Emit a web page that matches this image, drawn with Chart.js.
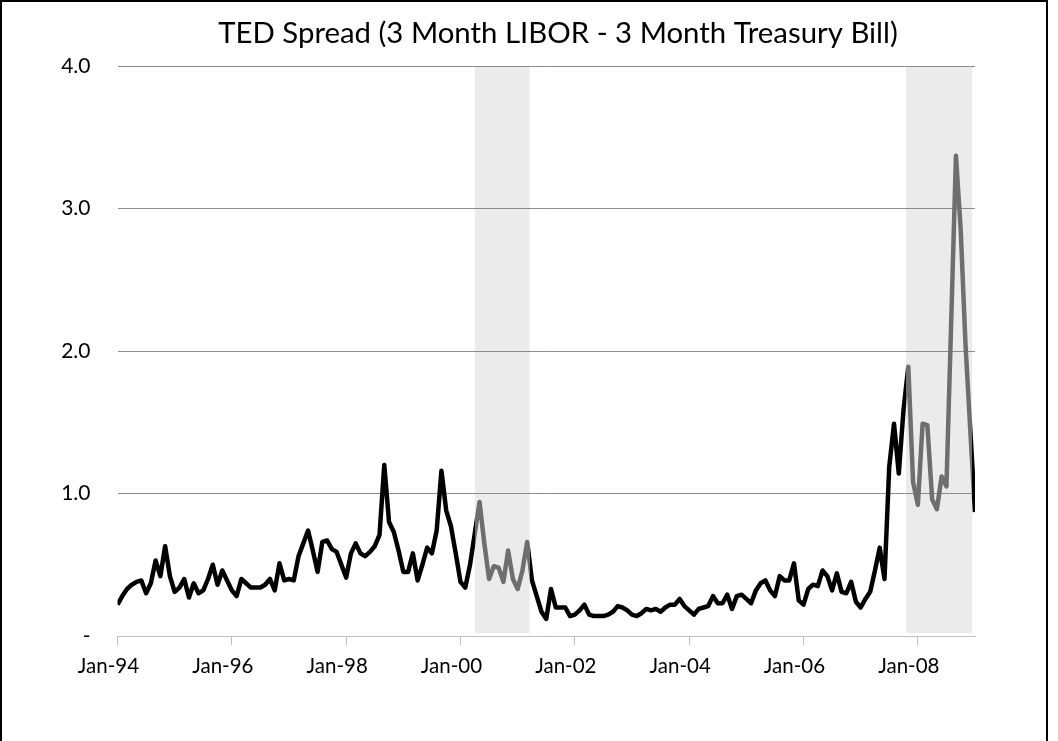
<!DOCTYPE html>
<html>
<head>
<meta charset="utf-8">
<script src="https://cdn.jsdelivr.net/npm/chart.js@4.4.0/dist/chart.umd.min.js"></script>
<style>
  html, body { margin: 0; padding: 0; background: #fff; overflow: hidden; }
  #frame { position: absolute; left: 0; top: 0; width: 1044px; height: 760px; border: 2px solid #000; }
  #wrap { position: absolute; left: 0; top: 0; width: 1044px; height: 739px; }
</style>
</head>
<body>
<div id="frame"><div id="wrap"><canvas id="c"></canvas></div></div>
<script>
// ---- Data (monthly TED spread, %, starting Jan-1994) ----
const y1994 = [0.22, 0.28, 0.33, 0.36, 0.38, 0.39, 0.30, 0.37, 0.53, 0.42, 0.63, 0.42];
const y1995 = [0.31, 0.34, 0.40, 0.27, 0.37, 0.30, 0.32, 0.40, 0.50, 0.36, 0.46, 0.39];
const y1996 = [0.32, 0.28, 0.40, 0.37, 0.34, 0.34, 0.34, 0.36, 0.40, 0.32, 0.51, 0.39];
const y1997 = [0.40, 0.39, 0.56, 0.65, 0.74, 0.60, 0.45, 0.66, 0.67, 0.61, 0.59, 0.50];
const y1998 = [0.41, 0.58, 0.65, 0.58, 0.56, 0.59, 0.63, 0.71, 1.20, 0.80, 0.73, 0.60];
const y1999 = [0.45, 0.45, 0.58, 0.39, 0.50, 0.62, 0.58, 0.74, 1.16, 0.88, 0.77, 0.58];
const y2000 = [0.38, 0.34, 0.50, 0.72, 0.94, 0.65, 0.40, 0.49, 0.48, 0.38, 0.60, 0.40];
const y2001 = [0.33, 0.46, 0.66, 0.39, 0.28, 0.17, 0.12, 0.33, 0.20, 0.20, 0.20, 0.14];
const y2002 = [0.15, 0.18, 0.22, 0.15, 0.14, 0.14, 0.14, 0.15, 0.17, 0.21, 0.20, 0.18];
const y2003 = [0.15, 0.14, 0.16, 0.19, 0.18, 0.19, 0.17, 0.20, 0.22, 0.22, 0.26, 0.21];
const y2004 = [0.18, 0.15, 0.19, 0.20, 0.21, 0.28, 0.23, 0.23, 0.29, 0.19, 0.28, 0.29];
const y2005 = [0.26, 0.23, 0.32, 0.37, 0.39, 0.32, 0.28, 0.42, 0.39, 0.39, 0.51, 0.25];
const y2006 = [0.22, 0.33, 0.36, 0.35, 0.46, 0.42, 0.32, 0.44, 0.31, 0.30, 0.38, 0.24];
const y2007 = [0.20, 0.26, 0.31, 0.46, 0.62, 0.40, 1.19, 1.49, 1.14, 1.59, 1.89, 1.08];
const y2008 = [0.92, 1.49, 1.48, 0.96, 0.89, 1.12, 1.05, 2.20, 3.37, 2.85, 2.05, 1.45];
const y2009 = [0.87];

// x-axis tick labels (every 24 months from Jan-1994)
const tickLabels = ['Jan-94', 'Jan-96', 'Jan-98', 'Jan-00', 'Jan-02', 'Jan-04', 'Jan-06', 'Jan-08'];
const tickStepMonths = 24;
// y-axis tick labels
const yTickValues = [0, 1, 2, 3, 4];
const yTickLabels = ['-', '1.0', '2.0', '3.0', '4.0'];
// shaded periods, in months since Jan-1994
const bandStarts = [75.0, 165.5];
const bandEnds   = [86.5, 179.4];

const titleText = 'TED Spread (3 Month LIBOR - 3 Month Treasury Bill)';

// ---- Build ----
const tedValues = [].concat(y1994, y1995, y1996, y1997, y1998, y1999, y2000, y2001,
                            y2002, y2003, y2004, y2005, y2006, y2007, y2008, y2009);
const points = tedValues.map((v, i) => ({ x: i, y: v }));

const FONT = 'Lato, "Open Sans", sans-serif';
const BLACK = '#000000';
const GRAY = '#6e6e6e';

// fit title font to target width
const mctx = document.createElement('canvas').getContext('2d');
mctx.font = '26px ' + FONT;
const titleSize = 26 * 680 / mctx.measureText(titleText).width;
const titleCenterY = 32;
const plotTop = 64;
const titleCenterX = 556;

function lineColor(context) {
  const chart = context.chart;
  const ca = chart.chartArea;
  const xs = chart.scales.x;
  if (!ca || !xs) return BLACK;
  const w = ca.right - ca.left;
  const g = chart.ctx.createLinearGradient(ca.left, 0, ca.right, 0);
  g.addColorStop(0, BLACK);
  for (let k = 0; k < bandStarts.length; k++) {
    const p0 = Math.min(1, Math.max(0, (xs.getPixelForValue(bandStarts[k]) - ca.left) / w));
    const p1 = Math.min(1, Math.max(0, (xs.getPixelForValue(bandEnds[k]) - ca.left) / w));
    g.addColorStop(p0, BLACK);
    g.addColorStop(p0, GRAY);
    g.addColorStop(p1, GRAY);
    g.addColorStop(p1, BLACK);
  }
  g.addColorStop(1, BLACK);
  return g;
}

const bandsPlugin = {
  id: 'bands',
  beforeDraw(chart) {
    const { ctx, chartArea: ca, scales: { x, y } } = chart;
    ctx.save();
    ctx.fillStyle = '#ebebeb';
    const bottom = y.getPixelForValue(0.02);
    for (let k = 0; k < bandStarts.length; k++) {
      const x0 = x.getPixelForValue(bandStarts[k]);
      const x1 = x.getPixelForValue(bandEnds[k]);
      ctx.fillRect(x0, ca.top + 1, x1 - x0, bottom - ca.top - 1);
    }
    ctx.restore();
  }
};

const titleShift = {
  id: 'titleShift',
  afterLayout(chart) {
    const tb = chart.titleBlock;
    if (tb) { tb.left = 2 * titleCenterX - tb.right; }
  }
};

new Chart(document.getElementById('c'), {
  type: 'line',
  data: {
    datasets: [{
      data: points,
      borderColor: lineColor,
      borderWidth: 4.5,
      pointRadius: 0,
      pointHoverRadius: 0,
      tension: 0,
      borderJoinStyle: 'round',
      borderCapStyle: 'butt',
      fill: false
    }]
  },
  plugins: [bandsPlugin, titleShift],
  options: {
    responsive: true,
    maintainAspectRatio: false,
    animation: false,
    devicePixelRatio: 1,
    layout: { padding: { left: 0, right: 71, top: 0, bottom: 0 } },
    plugins: {
      legend: { display: false },
      tooltip: { enabled: false },
      title: {
        display: true,
        text: titleText,
        color: '#000',
        font: { family: FONT, size: titleSize, weight: 'normal', lineHeight: 1.2 },
        padding: { top: titleCenterY - titleSize * 0.6, bottom: plotTop - titleCenterY - titleSize * 0.6 }
      }
    },
    scales: {
      x: {
        type: 'linear',
        min: 0,
        max: tedValues.length - 1,
        afterFit(s) { s.height = 105; },
        border: { display: true, color: '#bfbfbf', width: 1 },
        grid: { drawOnChartArea: false, drawTicks: true, tickLength: 9, tickColor: '#bfbfbf' },
        ticks: {
          stepSize: tickStepMonths,
          includeBounds: false,
          autoSkip: false,
          maxRotation: 0,
          padding: 9,
          labelOffset: -9,
          color: '#000',
          font: { family: FONT, size: 20.5 },
          callback: (v) => tickLabels[Math.round(v / tickStepMonths)]
        }
      },
      y: {
        min: 0,
        max: 4,
        afterFit(s) { s.width = 115.5; },
        border: { display: false },
        grid: {
          drawTicks: false,
          lineWidth: 1,
          color: (c) => (c.tick && c.tick.value === 0) ? 'rgba(0,0,0,0)' : '#8c8c8c'
        },
        ticks: {
          stepSize: 1,
          padding: 27,
          color: '#000',
          font: { family: FONT, size: 21 },
          callback: (v) => { const k = yTickValues.indexOf(v); return k >= 0 ? yTickLabels[k] : ''; }
        }
      }
    }
  }
});
</script>
</body>
</html>
